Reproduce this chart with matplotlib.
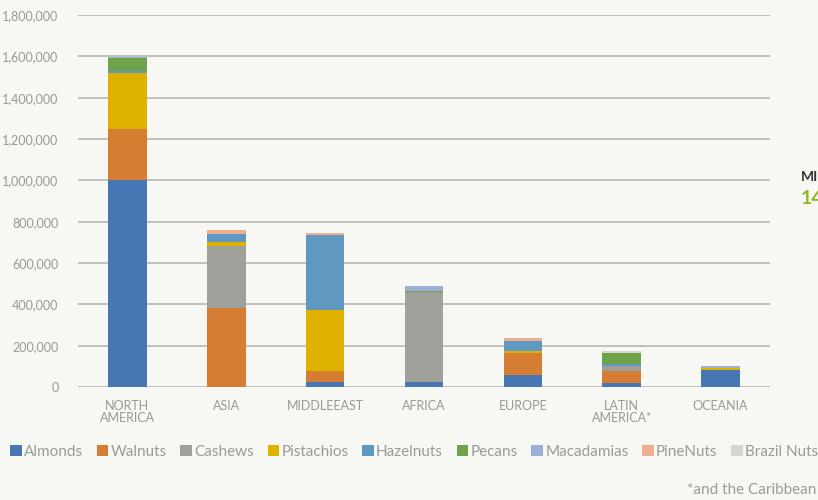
import matplotlib.pyplot as plt
import numpy as np

plt.rcParams['font.family'] = ['Lato', 'DejaVu Sans']

regions = ["NORTH\nAMERICA", "ASIA", "MIDDLEEAST", "AFRICA", "EUROPE", "LATIN\nAMERICA*", "OCEANIA"]
nut_names = ["Almonds", "Walnuts", "Cashews", "Pistachios", "Hazelnuts", "Pecans", "Macadamias", "PineNuts", "Brazil Nuts"]

almonds = [1000000, 0, 26000, 26000, 60000, 21000, 82000]
walnuts = [250000, 381000, 51000, 0, 106000, 56000, 0]
cashews = [0, 303000, 0, 432000, 0, 26000, 0]
pistachios = [270000, 19000, 297000, 0, 10000, 0, 11000]
hazelnuts = [10000, 39000, 361000, 0, 48000, 8000, 0]
pecans = [61000, 0, 0, 6000, 0, 55000, 0]
macadamias = [8000, 0, 0, 25000, 0, 0, 8000]
pine_nuts = [0, 18000, 10000, 0, 12000, 0, 0]
brazil_nuts = [0, 0, 0, 0, 0, 8000, 0]

series = [almonds, walnuts, cashews, pistachios, hazelnuts, pecans, macadamias, pine_nuts, brazil_nuts]
colors = ["#4677b3", "#d57d33", "#a0a09a", "#e0b200", "#5f98c1", "#6ea34a", "#9cafd7", "#eeae8f", "#d5d5d1"]

bg = "#f7f7f3"
fig = plt.figure(figsize=(8.18, 5), dpi=100, facecolor=bg)
ax = fig.add_axes([78 / 818, 1 - 387 / 500, 692 / 818, 372 / 500], facecolor=bg)

x = np.arange(len(regions))
bottom = np.zeros(len(regions))
handles = []
for name, vals, c in zip(nut_names, series, colors):
    vals = np.array(vals, dtype=float)
    b = ax.bar(x, vals, 0.39, bottom=bottom, color=c, linewidth=0, label=name, zorder=3)
    handles.append(b)
    bottom += vals

ax.set_xlim(-0.5, 6.5)
ax.set_ylim(0, 1800000)
ax.set_yticks(np.arange(0, 1800001, 200000))
ax.set_yticklabels([f"{v:,}" for v in range(0, 1800001, 200000)])
ax.set_xticks(x)
ax.set_xticklabels(regions, linespacing=1.0)
ax.tick_params(axis="both", length=0, colors="#999995", labelsize=9)
ax.tick_params(axis="y", pad=14)
ax.tick_params(axis="x", pad=9)
ax.grid(axis="y", color="#bcbcb8", linewidth=1.3, zorder=0)
for s in ax.spines.values():
    s.set_visible(False)

leg = fig.legend(handles=handles, labels=nut_names, loc="center left", bbox_to_anchor=(0.005, 1 - 452 / 500),
                 ncol=9, frameon=False, fontsize=11, handlelength=0.75, handleheight=0.75,
                 handletextpad=0.15, columnspacing=0.9, borderaxespad=0)
for t in leg.get_texts():
    t.set_color("#9a9a96")

fig.text(0.998, 1 - 490 / 500, "*and the Caribbean", ha="right", va="center", fontsize=11, color="#9a9a96")
fig.text(801 / 818, 1 - 177 / 500, "MI", ha="left", va="center", fontsize=10, fontweight="bold", color="#333333")
fig.text(801 / 818, 1 - 199 / 500, "14", ha="left", va="center", fontsize=14, fontweight="bold", color="#8cbb1f")

fig.savefig("out.png", dpi=100, facecolor=bg)
